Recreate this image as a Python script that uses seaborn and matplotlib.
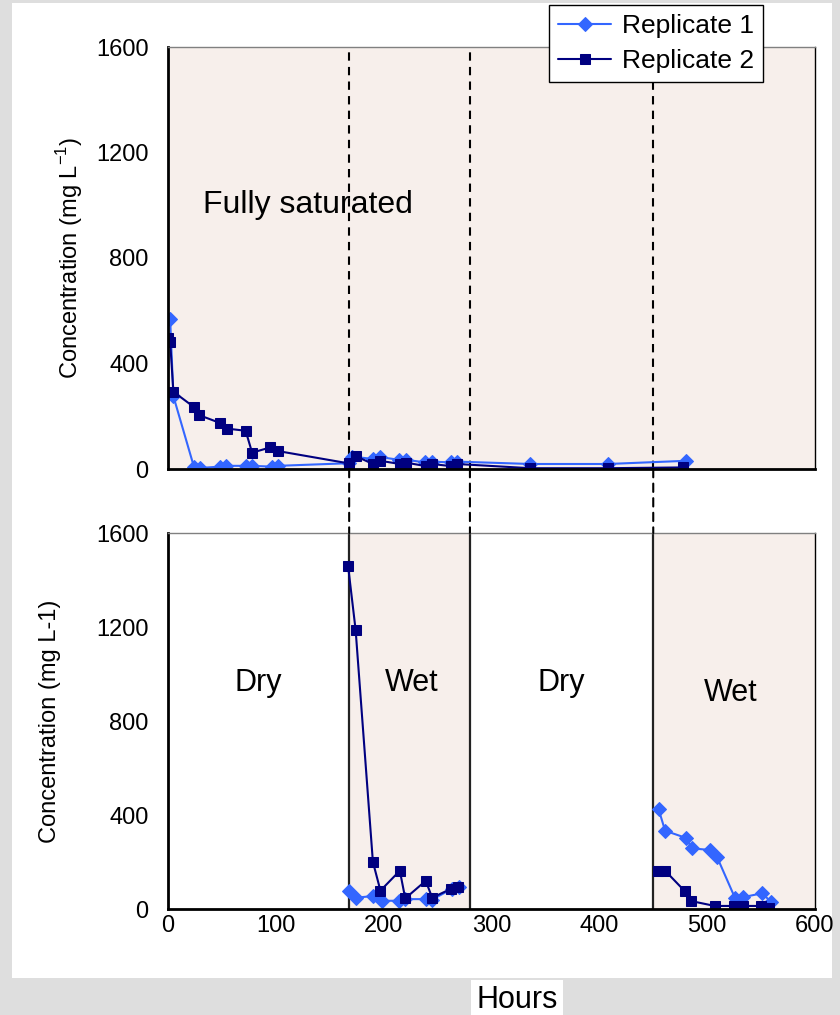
import matplotlib
matplotlib.use("Agg")
import matplotlib.pyplot as plt
import seaborn as sns
import pandas as pd
from matplotlib.patches import Rectangle, ConnectionPatch

# ---------------- data ----------------
top_rep1_hours = [2, 5, 24, 30, 48, 54, 72, 78, 96, 102, 168, 171, 190, 197, 214, 221, 238, 245, 262, 268, 336, 408, 480]
top_rep1_conc = [567, 276, 9, 4, 9, 12, 12, 12, 9, 12, 22, 47, 38, 45, 35, 35, 25, 28, 25, 28, 19, 19, 31]

top_rep2_hours = [0, 2, 5, 24, 29, 48, 55, 72, 78, 95, 102, 168, 174, 190, 197, 215, 221, 239, 245, 262, 268, 336, 408, 478]
top_rep2_conc = [496, 481, 293, 235, 204, 175, 153, 145, 62, 82, 68, 21, 49, 19, 31, 19, 24, 11, 19, 11, 19, 3, 3, 6]

bot_rep1_hours = [168, 174, 190, 198, 214, 220, 239, 245, 263, 270, 455, 461, 480, 486, 503, 509, 526, 533, 551, 559]
bot_rep1_conc = [78, 48, 55, 35, 35, 42, 42, 40, 85, 92, 424, 333, 303, 258, 251, 223, 45, 50, 67, 31]

bot_rep2_hours = [167, 174, 190, 197, 215, 220, 239, 245, 262, 269, 454, 461, 479, 485, 507, 525, 533, 550, 557]
bot_rep2_conc = [1460, 1187, 201, 78, 163, 45, 120, 48, 85, 92, 163, 163, 77, 34, 13, 13, 13, 13, 6]

phase_bounds = [168, 280, 450]
wet_spans = [(168, 280), (450, 600)]
y_ticks = [0, 400, 800, 1200, 1600]
x_ticks = [0, 100, 200, 300, 400, 500, 600]
series_names = ["Replicate 1", "Replicate 2"]
phase_labels_bottom = [("Dry", 84, 960), ("Wet", 226, 960), ("Dry", 365, 960), ("Wet", 522, 920)]

# ---------------- style ----------------
sns.set_theme(style="white")
plt.rcParams['font.family'] = ['Liberation Sans', 'DejaVu Sans']
plt.rcParams['mathtext.fontset'] = 'custom'
plt.rcParams['mathtext.rm'] = 'Liberation Sans'
plt.rcParams['text.color'] = 'black'
plt.rcParams['axes.labelcolor'] = 'black'

c1 = "#3366FF"
c2 = "#000080"
shade = "#f7efeb"

fig = plt.figure(figsize=(8.4, 10.15), dpi=100, facecolor="#dedede")
fig.patches.append(Rectangle((12 / 840, 1 - 978 / 1015), (832 - 12) / 840, (978 - 3) / 1015,
                             transform=fig.transFigure, facecolor="white", edgecolor="none", zorder=-10))

L, R = 168 / 840, 815 / 840
ax1 = fig.add_axes([L, 1 - 469 / 1015, R - L, (469 - 47) / 1015])
ax2 = fig.add_axes([L, 1 - 909 / 1015, R - L, (909 - 533) / 1015])


def style_axes(ax):
    ax.set_xlim(0, 600)
    ax.set_ylim(0, 1600)
    ax.set_xticks(x_ticks)
    ax.set_yticks(y_ticks)
    ax.spines['left'].set_color('black')
    ax.spines['left'].set_linewidth(2)
    ax.spines['bottom'].set_color('black')
    ax.spines['bottom'].set_linewidth(2)
    ax.spines['top'].set_color('#808080')
    ax.spines['top'].set_linewidth(1)
    ax.spines['right'].set_color('black')
    ax.spines['right'].set_linewidth(1)
    for s in ax.spines.values():
        s.set_zorder(5)
    ax.tick_params(axis='both', direction='out', length=6, width=1, color='#707070',
                   labelsize=17, labelcolor='black')
    ax.tick_params(axis='y', pad=8)
    ax.tick_params(axis='x', pad=-2)


def draw_series(ax, hx, hy, marker, color, ms, label):
    df = pd.DataFrame({"Hours": hx, "Conc": hy})
    # separate wetting cycles so the line is not drawn across the dry period
    df["cycle"] = (df["Hours"] > 350).astype(int)
    sns.lineplot(data=df, x="Hours", y="Conc", units="cycle", ax=ax, sort=False, estimator=None,
                 color=color, marker=marker, markersize=ms, markeredgecolor=color,
                 linewidth=1.5, zorder=4, legend=False)


# top panel
ax1.set_facecolor("white")
ax1.axvspan(0, 600, color=shade, zorder=0, lw=0)
s1 = pd.DataFrame({"Hours": top_rep1_hours, "Conc": top_rep1_conc})
s2 = pd.DataFrame({"Hours": top_rep2_hours, "Conc": top_rep2_conc})
sns.lineplot(data=s1, x="Hours", y="Conc", ax=ax1, sort=False, estimator=None, color=c1,
             marker="D", markersize=7, markeredgecolor=c1, linewidth=1.5, zorder=4,
             label=series_names[0], legend=False)
sns.lineplot(data=s2, x="Hours", y="Conc", ax=ax1, sort=False, estimator=None, color=c2,
             marker="s", markersize=7, markeredgecolor=c2, linewidth=1.5, zorder=4,
             label=series_names[1], legend=False)
style_axes(ax1)
ax1.set_xticklabels([])
ax1.set_xlabel("")
ax1.set_ylabel("Concentration (mg L$^{-1}$)", fontsize=17)
ax1.yaxis.set_label_coords(-0.128, 0.5)
ax1.text(32, 1000, "Fully saturated", fontsize=23, ha="left", va="center", zorder=6)

# bottom panel
ax2.set_facecolor("white")
for a, b in wet_spans:
    ax2.axvspan(a, b, color=shade, zorder=0, lw=0)
for xb in phase_bounds:
    ax2.axvline(xb, color="#222222", lw=1.6, zorder=2)
draw_series(ax2, bot_rep1_hours, bot_rep1_conc, "D", c1, 7, series_names[0])
draw_series(ax2, bot_rep2_hours, bot_rep2_conc, "s", c2, 7, series_names[1])
style_axes(ax2)
ax2.set_xlabel("")
ax2.set_ylabel("Concentration (mg L-1)", fontsize=17)
ax2.yaxis.set_label_coords(-0.165, 0.5)
for txt, xx, yy in phase_labels_bottom:
    ax2.text(xx, yy, txt, fontsize=22, ha="center", va="center", zorder=6)

# dashed phase boundaries across top panel and gap
for xb in phase_bounds:
    ax1.axvline(xb, color="black", lw=1.5, ls=(0, (4, 3)), zorder=3)
    con = ConnectionPatch(xyA=(xb, 0), coordsA=ax1.transData,
                          xyB=(xb, 1600), coordsB=ax2.transData,
                          color="black", lw=1.5, ls=(0, (4, 3)), zorder=3)
    fig.add_artist(con)

fig.text((517) / 840, 1 - 1000 / 1015, "Hours", fontsize=22, ha="center", va="center",
         bbox=dict(facecolor="white", edgecolor="none", pad=4))

# legend
handles = [ax1.get_lines()[0], ax1.get_lines()[1]]
leg = fig.legend(handles, series_names, loc="upper right", bbox_to_anchor=(763 / 840, 1 - 5 / 1015),
                 borderaxespad=0, frameon=True, fancybox=False, fontsize=19, handlelength=2.0,
                 handletextpad=0.4, borderpad=0.35, labelspacing=0.4)
leg.get_frame().set_edgecolor("black")
leg.get_frame().set_linewidth(1)
leg.get_frame().set_facecolor("white")
leg.get_frame().set_alpha(1)

fig.savefig("out.png", dpi=100, facecolor=fig.get_facecolor())
